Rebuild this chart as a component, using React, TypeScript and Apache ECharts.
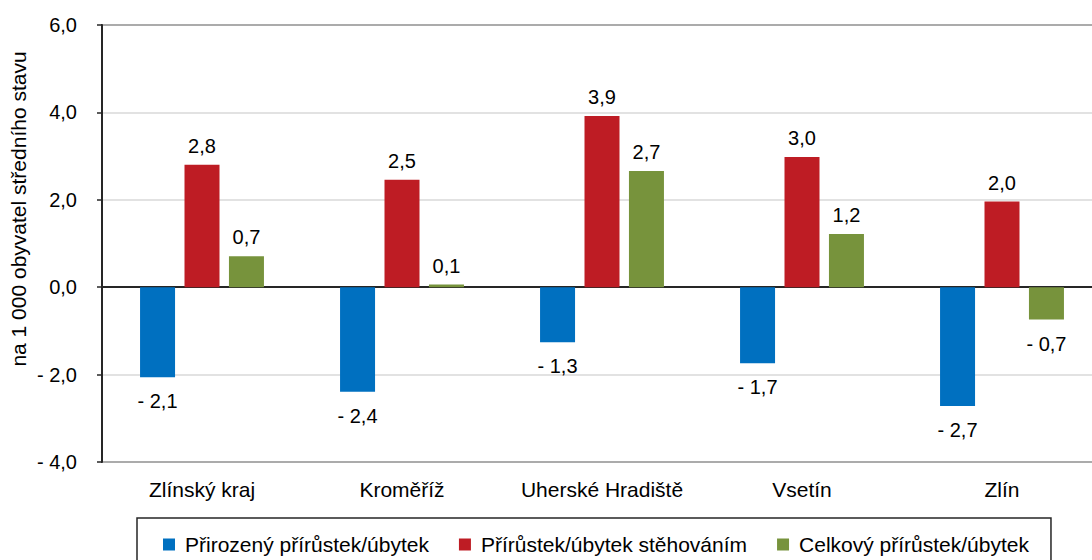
import React, { useEffect, useRef } from "react";
import * as echarts from "echarts";

const categories = ["Zlínský kraj", "Kroměříž", "Uherské Hradiště", "Vsetín", "Zlín"];
const seriesNames = ["Přirozený přírůstek/úbytek", "Přírůstek/úbytek stěhováním", "Celkový přírůstek/úbytek"];
const naturalChange = [-2.06, -2.39, -1.26, -1.74, -2.72];
const migrationChange = [2.8, 2.46, 3.92, 2.98, 1.96];
const totalChange = [0.71, 0.06, 2.66, 1.22, -0.74];
const colors = ["#0070C0", "#BE1C24", "#77933C"];
const yAxisTitle = "na 1 000 obyvatel středního stavu";

const FONT = "'Liberation Sans', Arial, sans-serif";

function fmt(v: number): string {
  const r = Math.round(v * 10) / 10;
  const s = Math.abs(r).toFixed(1).replace(".", ",");
  return r < 0 ? "- " + s : s;
}

export default function App() {
  const ref = useRef<HTMLDivElement>(null);
  useEffect(() => {
    if (!ref.current) return;
    const chart = echarts.init(ref.current, undefined, { renderer: "svg" });
    const makeSeries = (name: string, values: number[], color: string) => ({
      name,
      type: "bar",
      barWidth: 35,
      barGap: "27%",
      itemStyle: { color },
      data: values.map((v) => ({
        value: v,
        label: { position: v < 0 ? "bottom" : "top", distance: v < 0 ? 14 : 9 },
      })),
      label: {
        show: true,
        formatter: (p: any) => fmt(p.value),
        fontFamily: FONT,
        fontSize: 20,
        color: "#000",
      },
    });
    chart.setOption({
      animation: false,
      grid: {
        left: 102,
        right: 0,
        top: 25,
        bottom: 98,
        show: true,
        borderColor: "#262626",
        borderWidth: 2,
      },
      legend: {
        left: 137,
        top: 518,
        data: seriesNames,
        icon: "rect",
        itemWidth: 12,
        itemHeight: 12,
        itemGap: 30,
        borderColor: "#262626",
        borderWidth: 1.5,
        padding: [16, 22, 24, 26],
        textStyle: {
          fontFamily: FONT,
          fontSize: 21,
          color: "#000",
          padding: [0, 0, 0, 5],
        },
      },
      xAxis: {
        type: "category",
        data: categories,
        axisLine: { show: true, lineStyle: { color: "#262626", width: 2 } },
        axisTick: { show: false },
        axisLabel: { interval: 0, fontFamily: FONT, fontSize: 21, color: "#000", margin: 17 },
      },
      yAxis: {
        type: "value",
        min: -4,
        max: 6,
        interval: 2,
        axisLine: { show: true, lineStyle: { color: "#262626", width: 2 } },
        axisTick: { show: true, length: 5, lineStyle: { color: "#262626", width: 1.5 } },
        splitLine: { show: true, lineStyle: { color: "#d9d9d9", width: 1.5 } },
        axisLabel: {
          fontFamily: FONT,
          fontSize: 20,
          color: "#000",
          margin: 25,
          formatter: (v: number) => fmt(v),
        },
      },
      graphic: [
        {
          type: "text",
          x: 18,
          y: 209,
          rotation: Math.PI / 2,
          style: {
            text: yAxisTitle,
            fontFamily: FONT,
            fontSize: 21,
            fill: "#000",
            textAlign: "center",
            textVerticalAlign: "middle",
          },
        },
      ],
      series: [
        makeSeries(seriesNames[0], naturalChange, colors[0]),
        makeSeries(seriesNames[1], migrationChange, colors[1]),
        makeSeries(seriesNames[2], totalChange, colors[2]),
      ],
    });
    return () => chart.dispose();
  }, []);
  return (
    <div
      ref={ref}
      style={{ position: "fixed", left: 0, top: 0, width: 1102, height: 560, background: "#fff" }}
    />
  );
}
